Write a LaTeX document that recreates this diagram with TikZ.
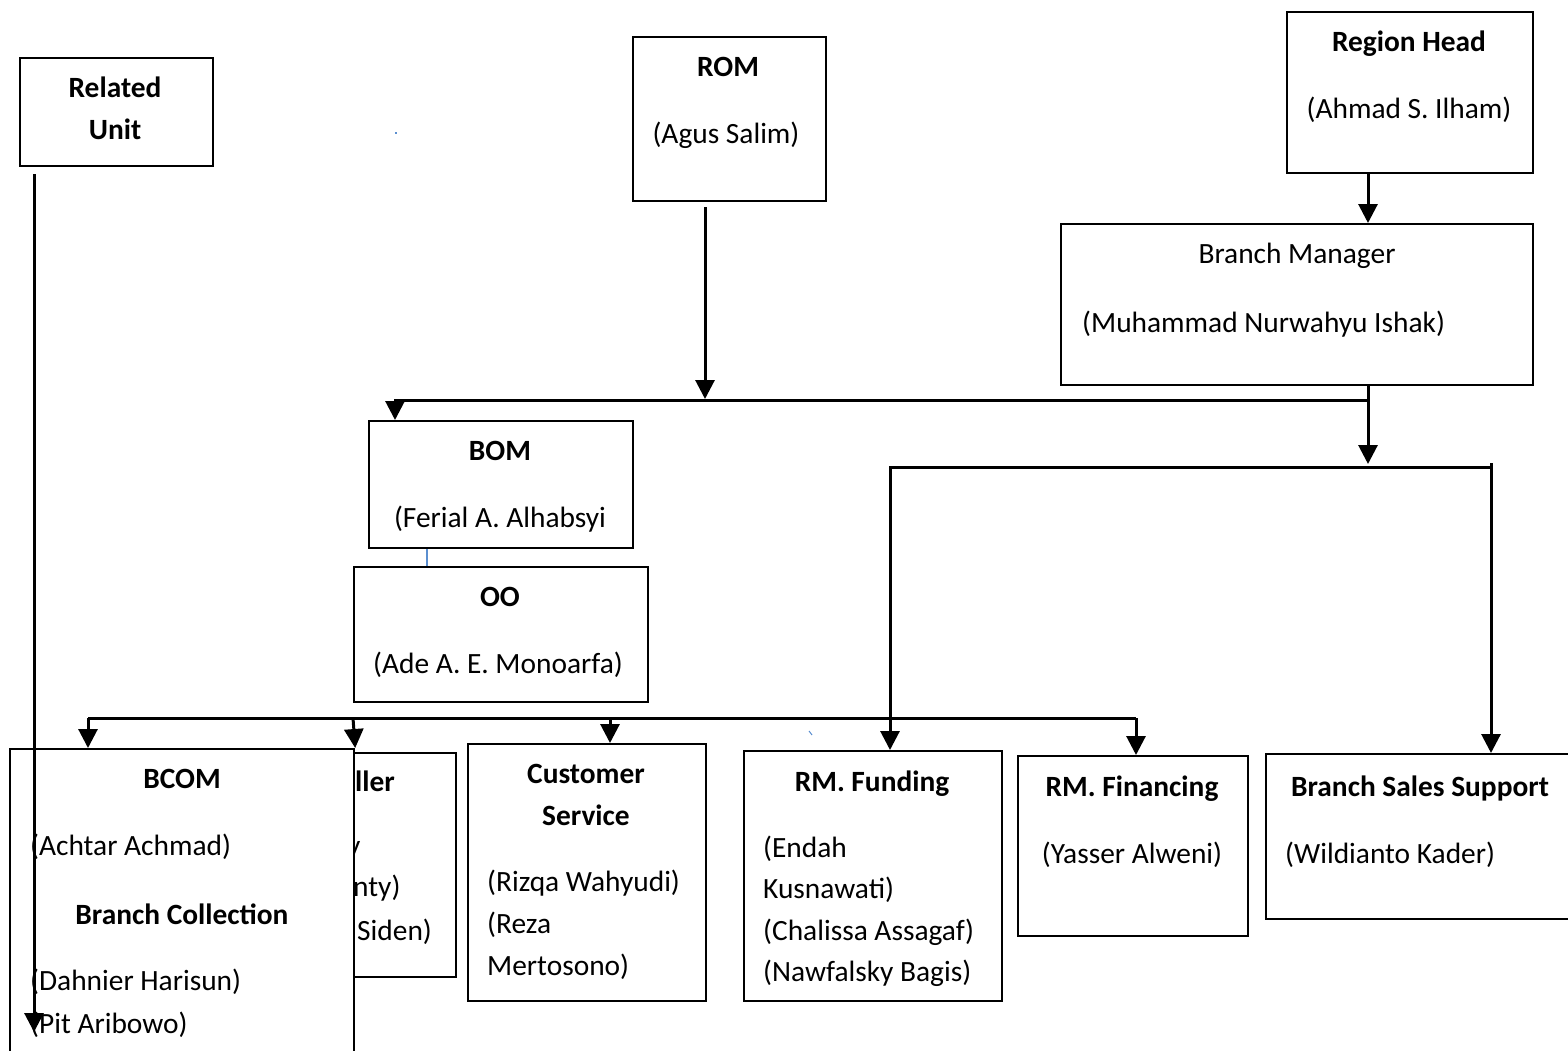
\documentclass[tikz,border=0pt]{standalone}
\usepackage{fontspec}
\setmainfont{Carlito}
\usetikzlibrary{arrows.meta}
\definecolor{speck}{HTML}{5B8FD0}
\tikzset{
  box/.style={draw, line width=2.2pt, fill=white, inner sep=0pt, anchor=north west},
  txt/.style={font=\fontsize{29.4}{42}\selectfont, inner sep=0pt},
  btxt/.style={txt, font=\fontsize{29.4}{42}\selectfont\bfseries},
  conn/.style={line width=3pt},
  tip/.tip={Triangle[width=19pt,length=19pt]},
  arr/.style={conn, -tip},
  thinblue/.style={draw=speck, line width=1.4pt}
}
\begin{document}
\begin{tikzpicture}[x=1pt, y=-1pt]
\useasboundingbox (0,0) rectangle (1568,1050);
\clip (0,0) rectangle (1568,1050);
\fill[white] (0,0) rectangle (1568,1050);

% ---------- top boxes ----------
\node[box, minimum width=193pt, minimum height=108pt] (ru) at (19,57) {};
\node[btxt, anchor=base] (ruA) at (115,97) {Related};
\node[btxt, anchor=base] (ruB) at (115,139) {Unit};

\node[box, minimum width=193pt, minimum height=164pt] (rom) at (632,36) {};
\node[btxt, anchor=base] (romA) at (728,76) {ROM};
\node[txt, anchor=base] (romB) at (726,143) {(Agus Salim)};

\node[box, minimum width=246pt, minimum height=161pt] (rh) at (1286,11) {};
\node[btxt, anchor=base] (rhA) at (1409,51) {Region Head};
\node[txt, anchor=base] (rhB) at (1409,118) {(Ahmad S. Ilham)};

\node[box, minimum width=472pt, minimum height=161pt] (bm) at (1060,223) {};
\node[txt, anchor=base] (bmA) at (1297,263) {Branch Manager};
\node[txt, anchor=base west] (bmB) at (1082,332) {(Muhammad Nurwahyu Ishak)};

% ---------- middle boxes ----------
\node[box, minimum width=264pt, minimum height=127pt] (bom) at (368,420) {};
\node[btxt, anchor=base] (bomA) at (500,460) {BOM};
\node[txt, anchor=base] (bomB) at (500,527) {(Ferial A. Alhabsyi};

\node[box, minimum width=294pt, minimum height=135pt] (oo) at (353,566) {};
\node[btxt, anchor=base] (ooA) at (500,606) {OO};
\node[txt, anchor=base] (ooB) at (498,673) {(Ade A. E. Monoarfa)};

% ---------- bottom boxes ----------
\node[box, minimum width=205pt, minimum height=224pt] (tel) at (250,752) {};
\node[btxt, anchor=base west] (telA) at (355,791) {ller};
\node[txt, anchor=base west] (telB) at (347,855) {y};
\node[txt, anchor=base west] (telC) at (353,896) {nty)};
\node[txt, anchor=base west] (telD) at (357,940) {Siden)};

\node[box, minimum width=344pt, minimum height=330pt] (bcom) at (9,748) {};
\node[btxt, anchor=base] (bcomA) at (182,788) {BCOM};
\node[txt, anchor=base west] (bcomB) at (30,855) {(Achtar Achmad)};
\node[btxt, anchor=base] (bcomC) at (182,924) {Branch Collection};
\node[txt, anchor=base west] (bcomD) at (30,990) {(Dahnier Harisun)};
\node[txt, anchor=base west] (bcomE) at (30,1033) {(Pit Aribowo)};

\node[box, minimum width=238pt, minimum height=257pt] (cs) at (467,743) {};
\node[btxt, anchor=base] (csA) at (586,783) {Customer};
\node[btxt, anchor=base] (csB) at (586,825) {Service};
\node[txt, anchor=base west] (csC) at (487,891) {(Rizqa Wahyudi)};
\node[txt, anchor=base west] (csD) at (487,933) {(Reza};
\node[txt, anchor=base west] (csE) at (487,975) {Mertosono)};

\node[box, minimum width=258pt, minimum height=250pt] (fund) at (743,750) {};
\node[btxt, anchor=base] (fundA) at (872,791) {RM. Funding};
\node[txt, anchor=base west] (fundB) at (763,857) {(Endah};
\node[txt, anchor=base west] (fundC) at (763,898) {Kusnawati)};
\node[txt, anchor=base west] (fundD) at (763,940) {(Chalissa Assagaf)};
\node[txt, anchor=base west] (fundE) at (763,981) {(Nawfalsky Bagis)};

\node[box, minimum width=230pt, minimum height=180pt] (fin) at (1017,755) {};
\node[btxt, anchor=base] (finA) at (1132,796) {RM. Financing};
\node[txt, anchor=base] (finB) at (1132,863) {(Yasser Alweni)};

\node[box, minimum width=330pt, minimum height=165pt] (bss) at (1265,753) {};
\node[btxt, anchor=base] (bssA) at (1420,796) {Branch Sales Support};
\node[txt, anchor=base west] (bssB) at (1285,863) {(Wildianto Kader)};

% ---------- connectors ----------
\coordinate (ruend) at (34,1032);
\draw[arr] ([xshift=15pt,yshift=-7pt]ru.south west) -- (ruend);

\coordinate (j1) at (705,399);
\draw[arr] ([xshift=73pt,yshift=-5pt]rom.south west) -- (j1);

\draw[arr] ([xshift=82pt]rh.south west) -- ([xshift=308pt]bm.north west);

\coordinate (b1r) at (1368,400);
\draw[arr] (b1r) -| ([xshift=27pt]bom.north west);

\coordinate (b2tip) at (1368,464);
\draw[arr] ([xshift=308pt]bm.south west) -- (b2tip);

\coordinate (b2r) at (1491,467);
\coordinate (b2top) at (1491,463);
\draw[conn] (b2top) -- (b2r);
\draw[conn, tip-tip]
  ([xshift=147pt]fund.north west) |- (b2r) -- ([xshift=226pt]bss.north west);

\coordinate (b3a) at (88,718);
\coordinate (b3b) at (353,718);
\coordinate (b3c) at (610,718);
\coordinate (b3d) at (1136,718);
\draw[conn] (b3a) -- (b3d);
\draw[arr] (b3a) -- ([xshift=79pt]bcom.north west);
\draw[arr] (b3b) -- (bcom.north east);
\draw[arr] (b3c) -- ([xshift=143pt]cs.north west);
\draw[arr] (b3d) -- ([xshift=119pt]fin.north west);

\draw[thinblue] ([xshift=59pt]bom.south west) -- ([xshift=74pt]oo.north west);

% ---------- small specks ----------
\fill[speck] (395,132) rectangle (397,134);
\draw[speck, line width=1pt] (809,731) -- (812,735);
\end{tikzpicture}
\end{document}
